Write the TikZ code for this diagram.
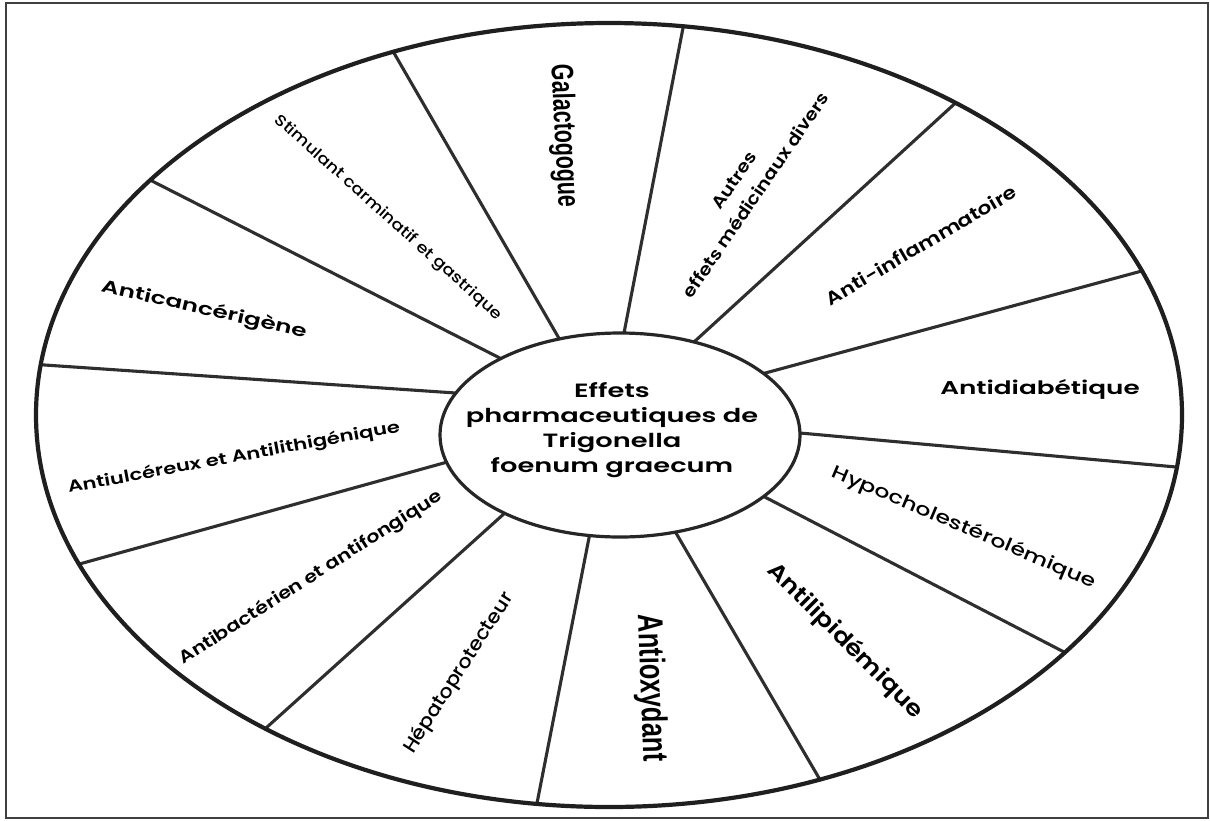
\documentclass[tikz,border=0pt]{standalone}
\usepackage{fontspec}
\setmainfont{Poppins}
\newfontfamily\popm{Poppins Medium}
\newfontfamily\pops{Poppins SemiBold}
\newfontfamily\arialf{Liberation Sans}
\newcommand\outerpt[3]{\pgfmathsetmacro\myT{atan2((#3-415)/392,(#2-609)/573)}\coordinate (#1) at ({609+573*cos(\myT)},{415+392*sin(\myT)});}
\newcommand\innerpt[3]{\pgfmathsetmacro\myT{atan2((#3-435)/102,(#2-620)/180)}\coordinate (#1) at ({620+180*cos(\myT)},{435+102*sin(\myT)});}
\newcommand\fs[2]{\fontsize{#1}{#2}\selectfont}
\begin{document}
\begin{tikzpicture}[x=1pt,y=-1pt,
  wheel/.style={line width=4.2pt, draw=black!88},
  hub/.style={line width=3.2pt, draw=black!85},
  spoke/.style={line width=3.1pt, draw=black!82},
  frame/.style={line width=1.6pt, draw=black!75},
  lbl/.style={inner sep=0pt, text=black, align=center}]
\useasboundingbox (0,0) rectangle (1210,820);
\fill[white] (0,0) rectangle (1210,820);
\draw[frame] (6,3) rectangle (1208,818);
% spoke end points
\outerpt{o1}{683}{28}    \innerpt{i1}{624}{333}
\outerpt{o2}{951}{107}   \innerpt{i2}{694}{342}
\outerpt{o3}{1138}{272}  \innerpt{i3}{767}{372}
\outerpt{o4}{1176}{467}  \innerpt{i4}{800}{433}
\outerpt{o5}{1064}{652}  \innerpt{i5}{765}{497}
\outerpt{o6}{819}{778}   \innerpt{i6}{676}{533}
\outerpt{o7}{537}{803}   \innerpt{i7}{589}{537}
\outerpt{o8}{266}{728}   \innerpt{i8}{502}{515}
\outerpt{o9}{83}{563}    \innerpt{i9}{448}{462}
\outerpt{o10}{44}{365}   \innerpt{i10}{452}{392}
\outerpt{o11}{154}{182}  \innerpt{i11}{500}{358}
\outerpt{o12}{394}{53}   \innerpt{i12}{560}{340}
\foreach \n in {1,...,12} \draw[spoke] (i\n) -- (o\n);
\draw[wheel] (609,415) ellipse [x radius=573, y radius=392];
\draw[hub] (620,435) ellipse [x radius=180, y radius=102];
% centre
\node[lbl, xscale=1.42, font=\pops\fs{19.2}{25}] (centre) at (612,430)
  {Effets\\pharmaceutiques de\\Trigonella\\foenum graecum};
% labels
\node[lbl, xscale=1.45, rotate=-87.9, font=\arialf\bfseries\fs{21.4}{26}] (gal) at (563,136) {Galactogogue};
\node[lbl, rotate=55.6, xscale=1.15, font=\pops\fs{17}{26}] (autres) at (745,188) {Autres\\effets médicinaux divers};
\node[lbl, rotate=30.4, xscale=1.2, font=\pops\fs{18.2}{22}] (inflam) at (921,245) {Anti-inflammatoire};
\node[lbl, xscale=1.42, font=\pops\fs{18.5}{22}] (diab) at (1040,389) {Antidiabétique};
\node[lbl, rotate=-23, xscale=1.3, font=\popm\fs{18.2}{22}] (hypo) at (964,528) {Hypocholestérolémique};
\node[lbl, rotate=-45, xscale=1.15, font=\pops\fs{22.4}{26}] (lipid) at (845,641) {Antilipidémique};
\node[lbl, xscale=1.4, rotate=-88.4, font=\arialf\bfseries\fs{25.4}{30}] (oxy) at (650,688) {Antioxydant};
\node[lbl, rotate=57.4, xscale=1.08, font=\popm\fs{19.2}{23}] (hepato) at (459,673) {Hépatoprotecteur};
\node[lbl, rotate=32.5, xscale=1.2, font=\pops\fs{17.1}{20}] (bact) at (311,578) {Antibactérien et antifongique};
\node[lbl, rotate=10.4, xscale=1.3, font=\pops\fs{16.2}{20}] (ulc) at (234,458) {Antiulcéreux et Antilithigénique};
\node[lbl, rotate=-12.8, xscale=1.42, font=\pops\fs{17.5}{22}] (cancer) at (204,310) {Anticancérigène};
\node[lbl, rotate=-41.8, xscale=1.15, font=\popm\fs{15.5}{19}] (stim) at (388,218) {Stimulant carminatif et gastrique};
\end{tikzpicture}
\end{document}
